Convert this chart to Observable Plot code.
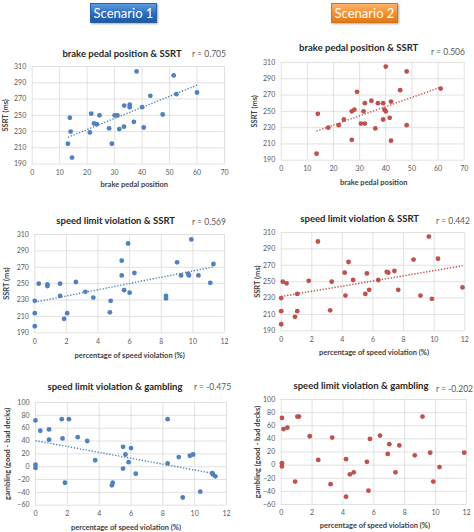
<!DOCTYPE html>
<html><head><meta charset="utf-8">
<script src="https://cdn.jsdelivr.net/npm/d3@7"></script>
<script src="https://cdn.jsdelivr.net/npm/@observablehq/plot@0.6"></script>
<style>
html,body{margin:0;padding:0;background:#fff;overflow:hidden;}
#root{position:relative;width:474px;height:532px;font-family:Lato,sans-serif;overflow:hidden;}
.abs{position:absolute;white-space:nowrap;line-height:1;}
.title{font-weight:bold;font-size:9.5px;color:#262626;transform:translate(-50%,-50%);}
.rval{font-size:8.5px;color:#595959;transform:translate(0,-50%);}
.scn{position:absolute;color:#fff;font-size:13px;display:flex;align-items:center;justify-content:center;box-sizing:border-box;}
</style></head><body><div id="root"></div>
<script>
// ---------- data ----------
const scenarios = ["Scenario 1", "Scenario 2"];
const titles = ["brake pedal position & SSRT", "brake pedal position & SSRT",
  "speed limit violation & SSRT", "speed limit violation & SSRT",
  "speed  limit violation & gambling", "speed limit violation & gambling"];
const rValues = ["r = 0.705", "r = 0.506", "r = 0.569", "r = 0.442", "r = -0.475", "r = -0.202"];
const xLabels = ["brake pedal position", "brake pedal position",
  "percentage of speed violation (%)", "percentage of speed violation (%)",
  "percentage of speed violation (%)", "percentage of speed violation (%)"];
const yLabels = ["SSRT (ms)", "SSRT (ms)", "SSRT (ms)", "SSRT (ms)",
  "gambling (good - bad decks)", "gambling (good - bad decks)"];
const brakeTicks = [0, 10, 20, 30, 40, 50, 60, 70];
const speedTicks = [0, 2, 4, 6, 8, 10, 12];
const ssrtTicks = [190, 210, 230, 250, 270, 290, 310];
const gambleTicks = [-60, -40, -20, 0, 20, 40, 60, 80, 100];
const showTrend = [true, true, true, true, true, false];

// Scenario 1: brake pedal position vs SSRT
const s1Brake = [38, 51.5, 60, 52.5, 43, 33.5, 35.5, 35.5, 40, 21.5, 24.5, 30, 31, 47.5, 13.7, 22.5, 23.5, 28, 31.7, 33.4, 37, 40.6, 14, 21, 29, 13, 14.5];
const s1BrakeSSRT = [304, 299, 278, 276, 274, 262, 263, 260, 260, 252, 250, 250, 250, 251, 247, 240, 239, 234, 233, 236, 242, 235, 230, 229, 215, 215, 198];
// Scenario 2: brake pedal position vs SSRT
const s2Brake = [40, 48, 61, 45.5, 29, 34.5, 32, 37, 39, 42, 28, 27, 31.5, 39.5, 40, 14, 24, 39, 41.5, 22, 18, 30.5, 32, 36, 48, 27, 42, 13.5];
const s2BrakeSSRT = [305, 299, 278, 276, 274, 263, 260, 260, 260, 262, 252, 250, 250, 252, 250, 247, 240, 240, 242, 233, 230, 235, 235, 229, 233, 215, 214, 198];
// Scenario 1: speed violation vs SSRT
const s1Speed = [9.9, 5.9, 5.5, 9.0, 11.3, 5.5, 6.3, 9.25, 9.7, 9.75, 10.35, 11.1, 2.6, 0.25, 0.8, 0.8, 1.6, 1.6, 5.65, 6.0, 3.2, 3.7, 8.3, 8.3, 4.8, 0, 0, 2.05, 1.85, 4.75, 0];
const s1SpeedSSRT = [304, 299, 278, 276, 274, 260, 263, 260, 262, 260, 260, 251, 252, 250, 249, 247, 250, 235, 242, 239, 240, 233, 235, 232, 229, 229, 214, 214, 207, 215, 198];
// Scenario 2: speed violation vs SSRT
const s2Speed = [9.65, 2.4, 8.65, 10.25, 4.4, 4.15, 5.6, 6.9, 7.0, 7.4, 0.1, 0.35, 1.8, 3.3, 4.7, 6.35, 5.75, 7.65, 11.85, 1.05, 4.2, 5.5, 9.1, 9.85, 0, 0, 1.05, 3.2, 0.9, 0];
const s2SpeedSSRT = [305, 299, 277, 278, 274, 261, 260, 262, 261, 263, 250, 248, 251, 250, 252, 252, 240, 240, 243, 235, 233, 235, 233, 229, 230, 214, 214, 215, 207, 198];
// Scenario 1: speed violation vs gambling
const s1GSpeed = [0, 1.65, 2.1, 8.3, 0.3, 0.85, 0.85, 1.7, 2.65, 3.25, 5.5, 6.0, 5.65, 3.75, 5.85, 8.3, 9.0, 9.7, 9.9, 0, 0, 5.5, 6.3, 11.1, 11.15, 11.3, 1.85, 4.85, 4.8, 9.25, 10.35];
const s1Gamble = [72, 74, 74, 74, 56, 58, 42, 44, 46, 40, 31, 29, 19, 10, 7, 5, 15, 17, 19, 3, -2, -3, -11, -10, -12, -15, -25, -25, -29, -48, -39];
// Scenario 2: speed violation vs gambling
const s2GSpeed = [0.05, 1.05, 1.15, 9.15, 0.15, 0.4, 1.85, 3.3, 5.75, 6.4, 7.0, 7.65, 6.9, 8.65, 9.65, 11.85, 2.4, 4.2, 5.55, 0.05, 0.05, 10.25, 4.7, 4.45, 7.4, 0.9, 9.85, 3.2, 5.65, 4.2];
const s2Gamble = [72, 74, 74, 74, 55, 57, 44, 42, 40, 45, 32, 30, 17, 15, 19, 19, 8, 9, 5, 3, -2, -3, -11, -14, -11, -25, -25, -29, -39, -48];

const blue = "#4f81bd", red = "#c0504d";

// ---------- layout ----------
const root = document.getElementById("root");
function addDiv(cls, text, left, top, extra) {
  const d = document.createElement("div");
  d.className = cls; d.textContent = text;
  if (left !== null) d.style.left = left + "px";
  d.style.top = top + "px";
  Object.assign(d.style, extra || {});
  root.appendChild(d);
  return d;
}

// scenario headers
addDiv("scn", scenarios[0], 90, 3, {width: "67px", height: "20px",
  background: "linear-gradient(#5a9be0, #2a6cbf 55%, #1d5aa6)", border: "1px solid #2c5f9e",
  boxShadow: "1px 1px 2px rgba(0,0,0,0.35)"});
addDiv("scn", scenarios[1], 331, 3, {width: "67px", height: "20px",
  background: "linear-gradient(#fbb36a, #f38f2c 55%, #e2781a)", border: "1px solid #d2741e",
  boxShadow: "1px 1px 2px rgba(0,0,0,0.35)"});

const panels = [
  {x0: 0,   L: 31.7,  R: 224,   T: 65.7,  B: 163.3, xs: s1Brake,  ys: s1BrakeSSRT, xTicks: brakeTicks, yTicks: ssrtTicks, color: blue,
   tx: 122, ty: 54, rx: 192, ry: 54, xlDy: 20.7, xlDx: 6, ylDx: 26.7},
  {x0: 237, L: 280.7, R: 463.7, T: 62.3,  B: 160,   xs: s2Brake,  ys: s2BrakeSSRT, xTicks: brakeTicks, yTicks: ssrtTicks, color: red,
   tx: 358.7, ty: 48, rx: 431, ry: 51.7, xlDy: 22.7, xlDx: 1, ylDx: 27},
  {x0: 0,   L: 34.3,  R: 224,   T: 234,   B: 332.3, xs: s1Speed,  ys: s1SpeedSSRT, xTicks: speedTicks, yTicks: ssrtTicks, color: blue,
   tx: 115.7, ty: 221, rx: 192, ry: 222.3, xlDy: 22.4, xlDx: 0, ylDx: 28},
  {x0: 237, L: 280.7, R: 464.3, T: 231.7, B: 330,   xs: s2Speed,  ys: s2SpeedSSRT, xTicks: speedTicks, yTicks: ssrtTicks, color: red,
   tx: 359.7, ty: 219.3, rx: 436, ry: 220.7, xlDy: 21.3, xlDx: 1, ylDx: 23.5},
  {x0: 0,   L: 35,    R: 226,   T: 402.3, B: 505,   xs: s1GSpeed, ys: s1Gamble,    xTicks: speedTicks, yTicks: gambleTicks, color: blue,
   tx: 115, ty: 387.3, rx: 194, ry: 387, xlDy: 22.7, xlDx: -5, ylDx: 28},
  {x0: 237, L: 280.7, R: 466,   T: 399.3, B: 504.3, xs: s2GSpeed, ys: s2Gamble,    xTicks: speedTicks, yTicks: gambleTicks, color: red,
   tx: 361, ty: 385.7, rx: null, ry: 389, xlDy: 21.4, xlDx: 1, ylDx: 23.5}
];

panels.forEach((p, i) => {
  const top = p.T - 30;
  const height = (p.B + 34) - top;
  const data = p.xs.map((x, j) => ({x, y: p.ys[j]}));
  const gridStyle = {stroke: "#d9d9d9", strokeOpacity: 1, strokeWidth: 0.8};
  const marks = [
    Plot.gridX(p.xTicks, gridStyle),
    Plot.gridY(p.yTicks, gridStyle),
    Plot.axisX(p.xTicks, {tickSize: 0, tickPadding: 6, label: null, fill: "#595959"}),
    Plot.axisY(p.yTicks, {tickSize: 0, tickPadding: 6, label: null, fill: "#595959"})
  ];
  if (showTrend[i]) marks.push(Plot.linearRegressionY(data, {x: "x", y: "y", stroke: p.color, strokeWidth: 1.4,
    strokeDasharray: "1.3 1.7", strokeLinecap: "butt", ci: 0}));
  marks.push(
    Plot.dot(data, {x: "x", y: "y", r: 2.4, fill: p.color}),
    Plot.text([xLabels[i]], {text: d => d, frameAnchor: "bottom", dy: p.xlDy, dx: p.xlDx, lineAnchor: "middle",
      fontWeight: "bold", fontSize: 7.5, fill: "#404040"}),
    Plot.text([yLabels[i]], {text: d => d, frameAnchor: "left", dx: -p.ylDx, rotate: -90, lineAnchor: "middle",
      textAnchor: "middle", fontWeight: "bold", fontSize: 7.5, fill: "#404040"})
  );
  const svg = Plot.plot({
    width: 237, height,
    marginLeft: p.L - p.x0, marginRight: p.x0 + 237 - p.R,
    marginTop: p.T - top, marginBottom: height - (p.B - top),
    style: {fontFamily: "Lato, sans-serif", fontSize: "7px", color: "#595959", background: "transparent", overflow: "visible"},
    x: {domain: [p.xTicks[0], p.xTicks[p.xTicks.length - 1]]},
    y: {domain: [p.yTicks[0], p.yTicks[p.yTicks.length - 1]]},
    marks
  });
  svg.style.position = "absolute";
  svg.style.left = p.x0 + "px";
  svg.style.top = top + "px";
  root.appendChild(svg);
  addDiv("abs title", titles[i], p.tx, p.ty);
  addDiv("abs rval", rValues[i], p.rx, p.ry, p.rx === null ? {right: "1px"} : {});
});
</script></body></html>
